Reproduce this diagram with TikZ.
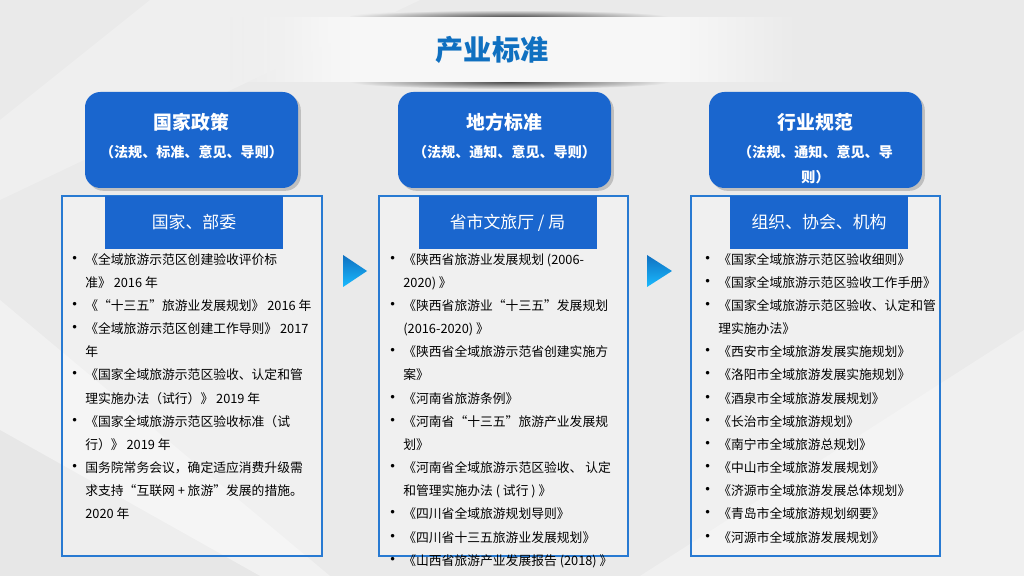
\documentclass[tikz,border=0pt]{standalone}
\usepackage{fontspec}
\setmainfont{Noto Sans CJK SC}
\usetikzlibrary{shadows,positioning,fadings}
\definecolor{bggray}{RGB}{234,234,234}
\definecolor{boxblue}{RGB}{26,102,206}
\definecolor{lineblue}{RGB}{40,122,210}
\definecolor{titleblue}{RGB}{16,112,192}
\newcommand\bul{\makebox[10pt][l]{\hspace*{-3.5pt}\scalebox{1.3}{•}}}
\newcommand\ind{\hspace*{10pt}}
\tikzfading[name=fade sides, left color=transparent!100, right color=transparent!100,
  middle color=transparent!0]
\tikzset{
  headbox/.style={fill=boxblue, rounded corners=11pt, minimum width=213*0.025cm,
    minimum height=96*0.025cm, drop shadow={shadow xshift=2pt, shadow yshift=-2pt, opacity=.4}},
  headtitle/.style={text=white, font=\fontsize{13.4pt}{16pt}\selectfont\bfseries},
  headsub/.style={text=white, align=center, font=\fontsize{10pt}{17.8pt}\selectfont\bfseries},
  listframe/.style={draw=lineblue, line width=1pt, fill=white, fill opacity=.3,
    minimum height=360*0.025cm},
  barbox/.style={fill=boxblue, text=white, minimum width=178*0.025cm, minimum height=53*0.025cm,
    font=\fontsize{12pt}{14pt}\selectfont},
  listtext/.style={anchor=north west, inner sep=0pt, align=left,
    font=\fontsize{9.1pt}{16.47pt}\selectfont},
  arrowtip/.style={top color=titleblue, bottom color=cyan!70!blue!90!white}
}
\begin{document}
\begin{tikzpicture}[x=0.025cm,y=-0.025cm]
  % background
  \fill[bggray] (0,0) rectangle (1024,576);
  \useasboundingbox (0,0) rectangle (1024,576);
  \fill[white, opacity=.35] (0,300) -- (330,576) -- (0,576) -- cycle;
  \fill[white, opacity=.3] (640,576) -- (1024,330) -- (1024,576) -- cycle;
  \fill[white, opacity=.25] (150,0) -- (420,0) -- (0,200) -- (0,120) -- cycle;
  \fill[black, opacity=.04] (0,430) -- (260,576) -- (0,576) -- cycle;

  % title band
  \shade[inner color=black!70, outer color=bggray] (510,17) ellipse [x radius=160, y radius=7];
  \shade[inner color=black!70, outer color=bggray] (510,82) ellipse [x radius=160, y radius=7];
  \fill[white!97!black] (340,17) rectangle (680,82);
  \fill[bggray, path fading=fade sides, fading transform={rotate=0}] (230,17) rectangle (350,82);
  \fill[white!97!black, path fading=fade sides] (220,17) rectangle (460,82);
  \fill[white!97!black, path fading=fade sides] (560,17) rectangle (800,82);
  \node[text=titleblue, font=\fontsize{20pt}{24pt}\selectfont\bfseries] (title) at (492,50) {产业标准};

  % columns
  \node[headbox] (natbox) at (191.5,140) {};
  \node[headbox] (locbox) at (504.5,140) {};
  \node[headbox] (indbox) at (815.5,140) {};
  \node[headtitle] (nattitle) at (191.5,122) {国家政策};
  \node[headtitle] (loctitle) at (504.5,122) {地方标准};
  \node[headtitle] (indtitle) at (815.5,122) {行业规范};
  \node[headsub] (natsub) at (191.5,152) {（法规、标准、意见、导则）};
  \node[headsub] (locsub) at (504.5,152) {（法规、通知、意见、导则）};
  \node[headsub, text width=170*0.025cm] (indsub) at (815.5,164.5) {（法规、通知、意见、导\\则）};

  \node[listframe, minimum width=260*0.025cm] (natframe) at (192,376) {};
  \node[listframe, minimum width=249*0.025cm] (locframe) at (503.5,376) {};
  \node[listframe, minimum width=249*0.025cm] (indframe) at (815.5,376) {};
  \node[barbox] (natbar) at (194,222.5) {国家、部委};
  \node[barbox] (locbar) at (507.5,222.5) {省市文旅厅 / 局};
  \node[barbox] (indbar) at (819,222.5) {组织、协会、机构};

  \node[listtext] (natlist) at (71,253) {\bul《全域旅游示范区创建验收评价标\\
    \ind 准》 2016 年\\
    \bul《“十三五”旅游业发展规划》 2016 年\\
    \bul《全域旅游示范区创建工作导则》 2017\\
    \ind 年\\
    \bul《国家全域旅游示范区验收、认定和管\\
    \ind 理实施办法（试行）》 2019 年\\
    \bul《国家全域旅游示范区验收标准（试\\
    \ind 行）》 2019 年\\
    \bul 国务院常务会议，确定适应消费升级需\\
    \ind 求支持“互联网 + 旅游”发展的措施。\\
    \ind 2020 年};
  \node[listtext] (loclist) at (389,253) {\bul《陕西省旅游业发展规划 (2006-\\
    \ind 2020) 》\\
    \bul《陕西省旅游业“十三五”发展规划\\
    \ind (2016-2020) 》\\
    \bul《陕西省全域旅游示范省创建实施方\\
    \ind 案》\\
    \bul《河南省旅游条例》\\
    \bul《河南省“十三五”旅游产业发展规\\
    \ind 划》\\
    \bul《河南省全域旅游示范区验收、 认定\\
    \ind 和管理实施办法 ( 试行 ) 》\\
    \bul《四川省全域旅游规划导则》\\
    \bul《四川省十三五旅游业发展规划》\\
    \bul《山西省旅游产业发展报告 (2018) 》};
  \node[listtext] (indlist) at (704,253) {\bul《国家全域旅游示范区验收细则》\\
    \bul《国家全域旅游示范区验收工作手册》\\
    \bul《国家全域旅游示范区验收、认定和管\\
    \ind 理实施办法》\\
    \bul《西安市全域旅游发展实施规划》\\
    \bul《洛阳市全域旅游发展实施规划》\\
    \bul《酒泉市全域旅游发展规划》\\
    \bul《长治市全域旅游规划》\\
    \bul《南宁市全域旅游总规划》\\
    \bul《中山市全域旅游发展规划》\\
    \bul《济源市全域旅游发展总体规划》\\
    \bul《青岛市全域旅游规划纲要》\\
    \bul《河源市全域旅游发展规划》};

  % arrows between columns
  \shade[arrowtip] (343,255) -- (367,271) -- (343,287) -- cycle;
  \shade[arrowtip] (647,255) -- (672,271) -- (647,287) -- cycle;
\end{tikzpicture}
\end{document}
